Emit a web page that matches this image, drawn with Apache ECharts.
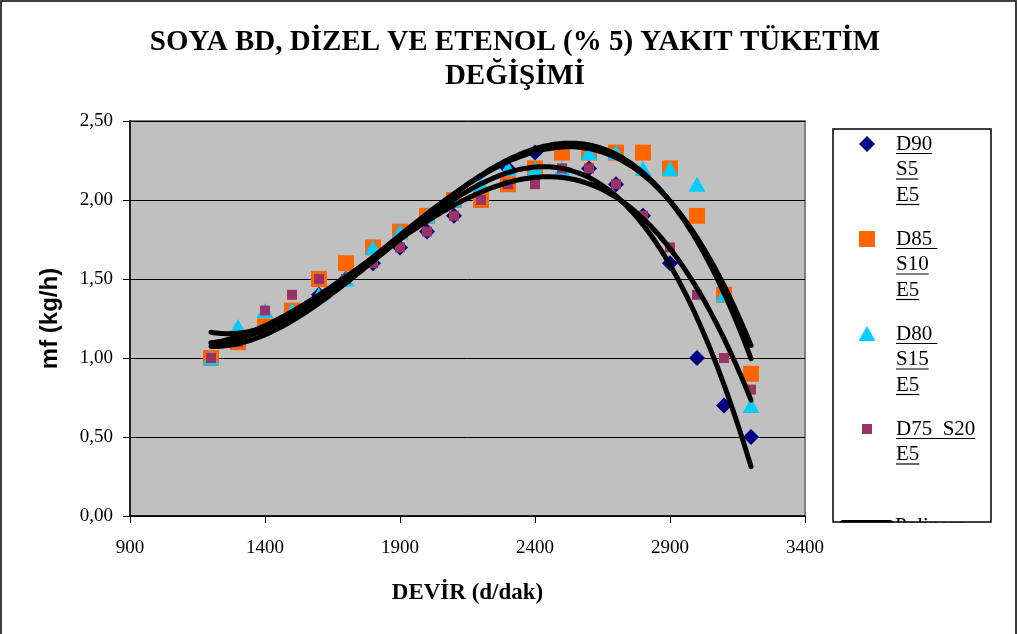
<!DOCTYPE html>
<html>
<head>
<meta charset="utf-8">
<script src="https://cdn.jsdelivr.net/npm/echarts@6/dist/echarts.min.js"></script>
<style>
  html, body { margin: 0; padding: 0; background: #fff; }
  #chart { width: 1018px; height: 634px; }
</style>
</head>
<body>
<div id="chart"></div>
<script>
// Engine speed (rpm) and fuel consumption mf (kg/h) for each blend
const rpm = [1200, 1300, 1400, 1500, 1600, 1700, 1800, 1900, 2000, 2100, 2200,
             2300, 2400, 2500, 2600, 2700, 2800, 2900, 3000, 3100, 3200];
const d90s5 = [1.0, 1.1, 1.2, 1.3, 1.4, 1.5, 1.6, 1.7, 1.8, 1.9, 2.0,
               2.2, 2.3, 2.3, 2.2, 2.1, 1.9, 1.6, 1.0, 0.7, 0.5];
const d85s10 = [1.0, 1.1, 1.2, 1.3, 1.5, 1.6, 1.7, 1.8, 1.9, 2.0, 2.0,
                2.1, 2.2, 2.3, 2.3, 2.3, 2.3, 2.2, 1.9, 1.4, 0.9];
const d80s15 = [1.0, 1.2, 1.3, 1.3, 1.4, 1.5, 1.7, 1.8, 1.9, 2.0, 2.1,
                2.2, 2.2, 2.2, 2.3, 2.3, 2.2, 2.2, 2.1, 1.4, 0.7];
const d75s20 = [1.0, 1.1, 1.3, 1.4, 1.5, 1.5, 1.6, 1.7, 1.8, 1.9, 2.0,
                2.1, 2.1, 2.2, 2.2, 2.1, 1.9, 1.7, 1.4, 1.0, 0.8];

const legendNames = [['D90', 'S5', 'E5'], ['D85 ', 'S10', 'E5'], ['D80 ', 'S15', 'E5'], ['D75  S20', 'E5']];
const colors = ['#000080', '#FF6600', '#00CCFF', '#993366'];

// Least-squares polynomial trendline (order 3), like a spreadsheet "Polinom" trendline
function polyFit(xs, ys, order) {
  const n = order + 1;
  const A = [], b = [];
  for (let i = 0; i < n; i++) { A.push(new Array(n).fill(0)); b.push(0); }
  xs.forEach((xv, k) => {
    const x = xv / 1000;
    for (let i = 0; i < n; i++) {
      b[i] += ys[k] * Math.pow(x, i);
      for (let j = 0; j < n; j++) A[i][j] += Math.pow(x, i + j);
    }
  });
  for (let c = 0; c < n; c++) {
    let p = c;
    for (let r = c + 1; r < n; r++) if (Math.abs(A[r][c]) > Math.abs(A[p][c])) p = r;
    [A[c], A[p]] = [A[p], A[c]]; [b[c], b[p]] = [b[p], b[c]];
    for (let r = c + 1; r < n; r++) {
      const f = A[r][c] / A[c][c];
      for (let k = c; k < n; k++) A[r][k] -= f * A[c][k];
      b[r] -= f * b[c];
    }
  }
  const coef = new Array(n).fill(0);
  for (let r = n - 1; r >= 0; r--) {
    let s = b[r];
    for (let k = r + 1; k < n; k++) s -= A[r][k] * coef[k];
    coef[r] = s / A[r][r];
  }
  return coef;
}
function trendPoints(ys) {
  const c = polyFit(rpm, ys, 3);
  const pts = [];
  for (let xv = rpm[0]; xv <= rpm[rpm.length - 1]; xv += 20) {
    const x = xv / 1000;
    let y = 0;
    for (let i = 0; i < c.length; i++) y += c[i] * Math.pow(x, i);
    pts.push([xv, y]);
  }
  return pts;
}

const pair = ys => rpm.map((x, i) => [x, ys[i]]);
const blends = [d90s5, d85s10, d80s15, d75s20];
const symbols = ['diamond', 'rect', 'triangle', 'rect'];
const symbolSizes = [[16, 16], [16, 16], [17, 15], [10, 10]];

const series = [];
blends.forEach((ys, i) => {
  series.push({
    type: 'scatter', name: legendNames[i].join(' '), data: pair(ys),
    symbol: symbols[i], symbolSize: symbolSizes[i],
    itemStyle: { color: colors[i], opacity: 1 }, z: 3 + i
  });
});
blends.forEach(ys => {
  series.push({
    type: 'line', data: trendPoints(ys), showSymbol: false, smooth: true,
    lineStyle: { color: '#000', width: 5, cap: 'round', join: 'round' },
    silent: true, z: 10
  });
});

// Legend box, drawn by hand so each line of a name can be underlined
const ctx = document.createElement('canvas').getContext('2d');
const legFont = '21px "Liberation Serif", "Times New Roman", serif';
ctx.font = legFont;
const graphics = [];
graphics.push({ type: 'rect', shape: { x: 1, y: 1, width: 1015, height: 700 },
  style: { fill: 'none', stroke: '#000', lineWidth: 1.5 }, z: 1 });
graphics.push({ type: 'rect', shape: { x: 833, y: 129, width: 158, height: 393 },
  style: { fill: '#fff', stroke: null }, z: 1 });
const markerX = 867, textX = 896;
const blockTops = [144, 239, 334, 429];
const lineStep = 25.5;
blockTops.forEach((y0, i) => {
  const sym = symbols[i];
  if (sym === 'diamond') {
    graphics.push({ type: 'polygon', shape: { points: [[markerX, y0 - 8], [markerX + 8, y0], [markerX, y0 + 8], [markerX - 8, y0]] },
      style: { fill: colors[i] }, z: 5 });
  } else if (sym === 'triangle') {
    graphics.push({ type: 'polygon', shape: { points: [[markerX, y0 - 8], [markerX + 8.5, y0 + 7], [markerX - 8.5, y0 + 7]] },
      style: { fill: colors[i] }, z: 5 });
  } else {
    const s = symbolSizes[i][0];
    graphics.push({ type: 'rect', shape: { x: markerX - s / 2, y: y0 - s / 2, width: s, height: s },
      style: { fill: colors[i] }, z: 5 });
  }
  legendNames[i].forEach((t, k) => {
    const y = y0 + k * lineStep;
    graphics.push({ type: 'text', x: textX, y: y,
      style: { text: t, font: legFont, fill: '#000', textAlign: 'left', textVerticalAlign: 'middle' }, z: 5 });
    const w = ctx.measureText(t).width;
    graphics.push({ type: 'line', shape: { x1: textX, y1: y + 9.5, x2: textX + w, y2: y + 9.5 },
      style: { stroke: '#000', lineWidth: 1.2 }, z: 5 });
  });
});
// trendline entry, cut off by the bottom of the legend box
graphics.push({ type: 'line', shape: { x1: 843, y1: 523, x2: 890, y2: 523 },
  style: { stroke: '#000', lineWidth: 6, lineCap: 'round' }, z: 5 });
graphics.push({ type: 'text', x: 895, y: 526,
  style: { text: 'Polinom.', font: legFont, fill: '#000', textAlign: 'left', textVerticalAlign: 'middle' }, z: 5 });
graphics.push({ type: 'rect', shape: { x: 832, y: 522.5, width: 170, height: 30 },
  style: { fill: '#fff' }, z: 6 });
graphics.push({ type: 'rect', shape: { x: 833, y: 129, width: 158, height: 393 },
  style: { fill: 'none', stroke: '#000', lineWidth: 1.5 }, z: 7 });
graphics.push({ type: 'text', x: 515, y: 43,
  style: { text: 'SOYA BD, DİZEL VE ETENOL (% 5) YAKIT TÜKETİM', font: 'bold 29px "Liberation Serif", serif',
    fill: '#000', textAlign: 'center', textVerticalAlign: 'middle' }, z: 5 });
graphics.push({ type: 'text', x: 515, y: 77,
  style: { text: 'DEĞİŞİMİ', font: 'bold 29px "Liberation Serif", serif',
    fill: '#000', textAlign: 'center', textVerticalAlign: 'middle' }, z: 5 });

const chart = echarts.init(document.getElementById('chart'), null, { renderer: 'canvas' });
chart.setOption({
  animation: false,
  backgroundColor: '#fff',
  grid: { left: 130, right: 213, top: 121, bottom: 118, show: true,
    backgroundColor: '#C0C0C0', borderColor: '#808080', borderWidth: 2 },
  xAxis: {
    type: 'value', min: 900, max: 3400, interval: 500,
    name: 'DEVİR (d/dak)', nameLocation: 'middle', nameGap: 66,
    nameTextStyle: { fontFamily: 'Liberation Serif', fontWeight: 'bold', fontSize: 23, color: '#000' },
    axisLine: { lineStyle: { color: '#000', width: 1.5 } },
    axisTick: { show: true, length: 7, lineStyle: { color: '#000' } },
    axisLabel: { fontFamily: 'Liberation Serif', fontSize: 19, color: '#000', margin: 23,
      formatter: v => String(v) },
    splitLine: { show: false }
  },
  yAxis: {
    type: 'value', min: 0, max: 2.5, interval: 0.5,
    name: 'mf (kg/h)', nameLocation: 'middle', nameGap: 68,
    nameTextStyle: { fontFamily: 'Liberation Sans', fontWeight: 'bold', fontSize: 24, color: '#000' },
    axisLine: { show: true, lineStyle: { color: '#000', width: 1.5 } },
    axisTick: { show: true, length: 7, lineStyle: { color: '#000' } },
    axisLabel: { fontFamily: 'Liberation Serif', fontSize: 19, color: '#000', margin: 17,
      formatter: v => v.toFixed(2).replace('.', ',') },
    splitLine: { show: true, lineStyle: { color: '#000', width: 1 } }
  },
  series: series,
  graphic: graphics
});
</script>
</body>
</html>
